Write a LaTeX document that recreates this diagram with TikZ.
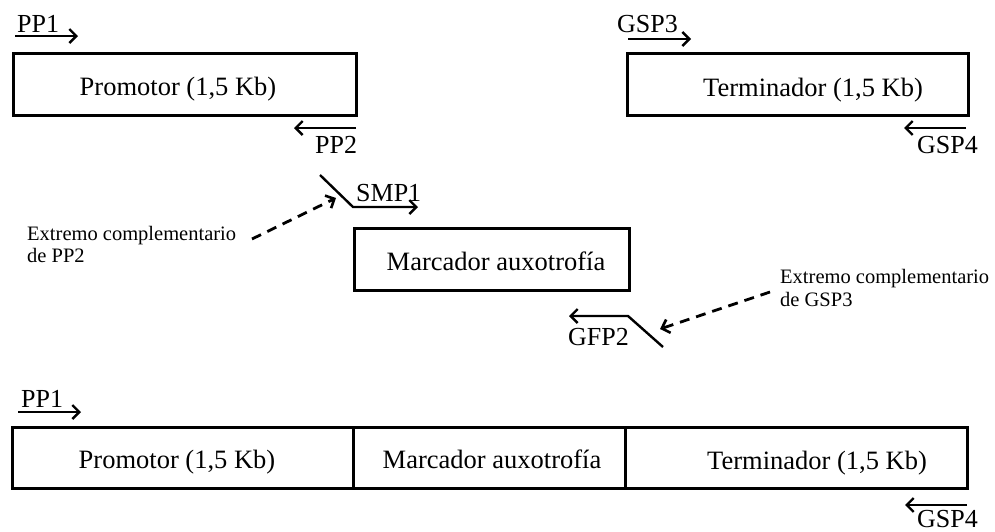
\documentclass[tikz,border=0pt]{standalone}
\usepackage{fontspec}
\setmainfont{Liberation Serif}
\usetikzlibrary{arrows.meta}
\tikzset{
  box/.style={draw, line width=3pt, inner sep=0pt, minimum height=62pt},
  txt/.style={font=\fontsize{26.5}{30}\selectfont, inner sep=0pt, anchor=base},
  lbl/.style={font=\fontsize{26}{30}\selectfont, inner sep=0pt, anchor=base west},
  note/.style={font=\fontsize{20.5}{23}\selectfont, inner sep=0pt, anchor=base west},
  primer/.style={line width=2.4pt, -{Straight Barb[length=7pt,width=14pt,line width=2.4pt]}},
  hint/.style={line width=2.8pt, dash pattern=on 10pt off 7pt, -{Straight Barb[length=7pt,width=14pt,line width=2.6pt]}},
}
\begin{document}
\begin{tikzpicture}[x=1pt,y=-1pt]
\useasboundingbox (0,0) rectangle (995,531);

% top boxes
\node[box, minimum width=343pt] (prom) at (184.5,84) {};
\node[txt] (promT) at (178,95) {Promotor (1,5 Kb)};
\node[box, minimum width=341pt] (term) at (797.5,84.5) {};
\node[txt] (termT) at (813,96) {Terminador (1,5 Kb)};

% primers on top
\node[lbl] (pp1) at (17,32) {PP1};
\coordinate (pp1a) at (15,36); \coordinate (pp1b) at (78,36);
\draw[primer] (pp1a) -- (pp1b);

\node[lbl] (pp2) at (315,153) {PP2};
\coordinate (pp2a) at (356,128); \coordinate (pp2b) at (294,128);
\draw[primer] (pp2a) -- (pp2b);

\node[lbl] (gsp3) at (617,32) {GSP3};
\coordinate (gsp3a) at (628,39); \coordinate (gsp3b) at (691,39);
\draw[primer] (gsp3a) -- (gsp3b);

\node[lbl] (gsp4) at (917,153) {GSP4};
\coordinate (gsp4a) at (966,128); \coordinate (gsp4b) at (904,128);
\draw[primer] (gsp4a) -- (gsp4b);

% marker
\node[box, minimum width=275pt] (mark) at (491.5,259) {};
\node[txt] (markT) at (496,270) {Marcador auxotrofía};

\node[lbl] (smp1) at (356,201) {SMP1};
\coordinate (smpa) at (320,175); \coordinate (smpb) at (353,207); \coordinate (smpc) at (418,207);
\draw[primer] (smpa) -- (smpb) -- (smpc);

\node[lbl] (gfp2) at (568,345) {GFP2};
\coordinate (gfpa) at (663,347); \coordinate (gfpb) at (628,316); \coordinate (gfpc) at (569,316);
\draw[primer] (gfpa) -- (gfpb) -- (gfpc);

% notes
\node[note] (n1a) at (27,240) {Extremo complementario};
\node[note] (n1b) at (27,262) {de PP2};
\coordinate (h1a) at (252,239); \coordinate (h1b) at (336,198);
\draw[hint] (h1a) -- (h1b);

\node[note] (n2a) at (780,283) {Extremo complementario};
\node[note] (n2b) at (780,306) {de GSP3};
\coordinate (h2a) at (770,292); \coordinate (h2b) at (660,329);
\draw[hint] (h2a) -- (h2b);

% bottom construct
\node[box, minimum width=341pt, minimum height=61pt] (b1) at (182.5,457.5) {};
\node[box, minimum width=272pt, minimum height=61pt] (b2) at (489,457.5) {};
\node[box, minimum width=342pt, minimum height=61pt] (b3) at (796,457.5) {};
\node[txt] (b1T) at (177,468) {Promotor (1,5 Kb)};
\node[txt] (b2T) at (492,468) {Marcador auxotrofía};
\node[txt] (b3T) at (817,469) {Terminador (1,5 Kb)};

\node[lbl] (pp1b0) at (21,407) {PP1};
\coordinate (bp1a) at (18,412); \coordinate (bp1b) at (81,412);
\draw[primer] (bp1a) -- (bp1b);

\node[lbl] (gsp4b0) at (917,527) {GSP4};
\coordinate (bg4a) at (967,505); \coordinate (bg4b) at (905,505);
\draw[primer] (bg4a) -- (bg4b);
\end{tikzpicture}
\end{document}
